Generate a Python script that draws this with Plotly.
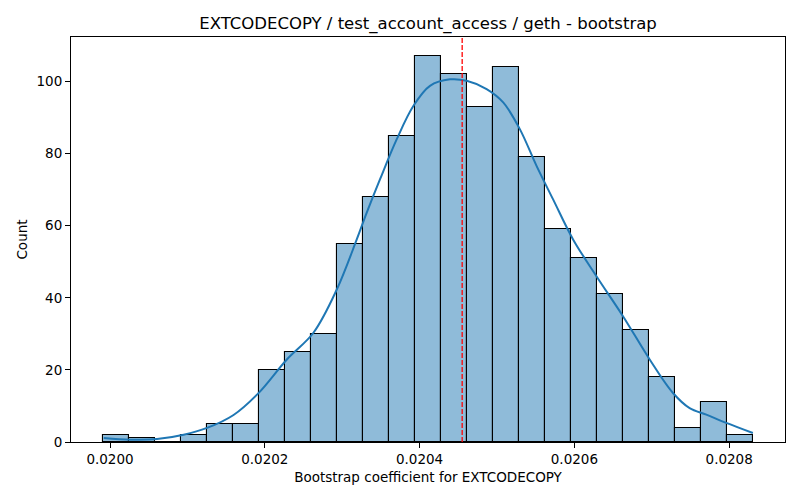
import numpy as np
import plotly.graph_objects as go

# Histogram data (bootstrap, 25 bins)
bin_low = 0.0199915
bin_high = 0.0208302
counts = [2, 1, 0, 2, 5, 5, 20, 25, 30, 55, 68, 85, 107, 102, 93, 104, 79, 59, 51, 41, 31, 18, 4, 11, 2]

# KDE curve (in count units)
kde_x = [0.0199919, 0.0200263, 0.0200608, 0.0200951, 0.0201253, 0.0201596, 0.0201915,
         0.0202285, 0.0202628, 0.0202930, 0.0203188, 0.0203317, 0.0203489, 0.0203705,
         0.0203919, 0.0204134, 0.0204392, 0.0204608, 0.0204866, 0.0205080, 0.0205295,
         0.0205511, 0.0205725, 0.0205983, 0.0206285, 0.0206628, 0.0206973, 0.0207274,
         0.0207489, 0.0207705, 0.0207963, 0.0208306]
kde_y = [1.1, 0.65, 0.8, 2.0, 3.9, 7.5, 13.5,
         22.9, 30.3, 42.3, 56.2, 63.6, 72.9, 84.0,
         93.2, 98.8, 100.6, 100.2, 97.9, 94.2, 86.8,
         76.6, 67.3, 56.2, 46.0, 34.9, 22.9, 13.6,
         9.4, 7.6, 5.3, 2.5]

mean_value = 0.020455

x_ticks = [0.0200, 0.0202, 0.0204, 0.0206, 0.0208]
y_ticks = [0, 20, 40, 60, 80, 100]

title = "EXTCODECOPY / test_account_access / geth - bootstrap"
x_label = "Bootstrap coefficient for EXTCODECOPY"
y_label = "Count"

edges = np.linspace(bin_low, bin_high, len(counts) + 1)
centers = (edges[:-1] + edges[1:]) / 2
width = edges[1] - edges[0]

fig = go.Figure()
fig.add_trace(go.Bar(
    x=centers, y=counts, width=width,
    marker=dict(color="rgba(31,119,180,0.5)", line=dict(color="black", width=1.1)),
    showlegend=False,
))
fig.add_trace(go.Scatter(
    x=kde_x, y=kde_y, mode="lines",
    line=dict(color="#1f77b4", width=2, shape="spline"),
    showlegend=False,
))
fig.add_shape(type="line", xref="x", yref="paper", x0=mean_value, x1=mean_value, y0=0, y1=1,
              line=dict(color="red", width=1.3, dash="5px,2px"))

rng = bin_high - bin_low
font = "DejaVu Sans, sans-serif"
fig.update_layout(
    width=800, height=500,
    margin=dict(l=71, r=15, t=37, b=58, autoexpand=False),
    plot_bgcolor="white", paper_bgcolor="white",
    bargap=0,
    font=dict(family=font, size=13.5, color="black"),
    title=dict(text=title, x=0.5, xref="paper", xanchor="center",
               y=1, yref="paper", yanchor="bottom", pad=dict(b=8),
               automargin=False,
               font=dict(size=16.5, family=font, color="black")),
    xaxis=dict(range=[bin_low - 0.05 * rng, bin_high + 0.05 * rng],
               tickvals=x_ticks, tickformat=".4f", automargin=False,
               showline=True, mirror=True, linecolor="black", linewidth=1.1,
               ticks="outside", ticklen=5, tickcolor="black", tickwidth=1.1,
               showgrid=False, zeroline=False,
               title=dict(text=x_label, standoff=6, font=dict(size=13.5))),
    yaxis=dict(range=[0, 107 * 1.05],
               tickvals=y_ticks, automargin=False,
               showline=True, mirror=True, linecolor="black", linewidth=1.1,
               ticks="outside", ticklen=5, tickcolor="black", tickwidth=1.1,
               showgrid=False, zeroline=False,
               title=dict(text=y_label, standoff=5, font=dict(size=13.5))),
)

fig.write_html(
    "out.html",
    config={"displayModeBar": False},
    post_script="document.body.style.margin='0';document.body.style.overflow='hidden';",
)
